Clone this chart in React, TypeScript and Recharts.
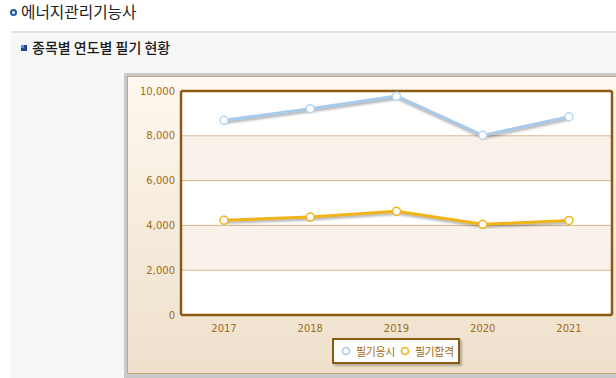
import React from 'react';
import { LineChart, Line, XAxis, YAxis, CartesianGrid, Legend } from 'recharts';

const years = ['2017', '2018', '2019', '2020', '2021'];
const applicants = [8690, 9210, 9770, 8020, 8850];
const passers = [4230, 4370, 4630, 4050, 4220];
const yTicks = [0, 2000, 4000, 6000, 8000, 10000];
const seriesNames = ['필기응시', '필기합격'];
const pageTitle = '에너지관리기능사';
const sectionTitle = '종목별 연도별 필기 현황';

const data = years.map((y, i) => ({ year: y, a: applicants[i], p: passers[i] }));

const BROWN = '#8d5a12';
const TICK = '#a26c14';
const BLUE = '#a9cbea';
const GOLD = '#f0b418';

const LegendBox = (props: any) => {
  const payload = props.payload || [];
  return (
    <div
      style={{
        display: 'inline-flex',
        alignItems: 'center',
        background: '#fff',
        border: `2px solid ${BROWN}`,
        boxShadow: '2px 2px 2px rgba(0,0,0,0.25)',
        padding: '2px 4px 2px 6px',
        height: 18,
        fontFamily: '"Noto Sans CJK KR", sans-serif',
        fontSize: 11,
        color: TICK,
        whiteSpace: 'nowrap',
      }}
    >
      {payload.map((p: any, i: number) => (
        <span key={i} style={{ display: 'inline-flex', alignItems: 'center', marginRight: i === payload.length - 1 ? 0 : 4 }}>
          <svg width={12} height={12} style={{ marginRight: 4 }}>
            <circle cx={6} cy={6} r={3.5} fill="#fff" stroke={p.color} strokeWidth={1.6} />
          </svg>
          <span style={{ letterSpacing: -0.4 }}>{p.value}</span>
        </span>
      ))}
    </div>
  );
};

export default function App() {
  return (
    <div
      style={{
        position: 'fixed',
        left: 0,
        top: 0,
        width: 616,
        height: 378,
        overflow: 'hidden',
        background: '#ffffff',
        fontFamily: '"Noto Sans CJK KR", sans-serif',
      }}
    >
      <style>{`.recharts-line-curve{filter:drop-shadow(1px 2px 1px rgba(0,0,0,0.3));}`}</style>
      <div
        style={{
          position: 'absolute',
          left: 10,
          top: 9,
          width: 7,
          height: 7,
          boxSizing: 'border-box',
          border: '2px solid #1a5aa0',
          borderRadius: '50%',
        }}
      />
      <div style={{ position: 'absolute', left: 21, top: 1, fontSize: 15.7, color: '#222', lineHeight: '22px' }}>
        {pageTitle}
      </div>
      <div
        style={{
          position: 'absolute',
          left: 11,
          top: 31,
          right: 0,
          bottom: 0,
          background: '#f7f7f7',
          borderTop: '2px solid #e2e2e2',
        }}
      />
      <div style={{ position: 'absolute', left: 21, top: 45, width: 6, height: 6, background: '#1b4b94' }} />
      <div style={{ position: 'absolute', left: 21, top: 45, width: 3, height: 3, background: '#5d8fd6' }} />
      <div
        style={{
          position: 'absolute',
          left: 32,
          top: 38,
          fontSize: 14,
          fontWeight: 500,
          color: '#1a1a1a',
          lineHeight: '18px',
        }}
      >
        {sectionTitle}
      </div>
      <div
        style={{
          position: 'absolute',
          left: 124,
          top: 73,
          width: 500,
          height: 305,
          boxSizing: 'border-box',
          borderLeft: '3px solid #c9c9c9',
          borderTop: '3px solid #c9c9c9',
          borderBottom: '4px solid #c9c9c9',
        }}
      >
        <div
          style={{
            position: 'absolute',
            left: 0,
            top: 0,
            right: 0,
            bottom: 0,
            border: '1px solid #c8a57a',
            background: 'linear-gradient(#fef8f0, #eee0cb)',
          }}
        >
          <LineChart
            width={488}
            height={296}
            data={data}
            margin={{ top: 13, right: 3, left: 0, bottom: 28 }}
          >
            <CartesianGrid
              vertical={false}
              stroke="#d4b68c"
              horizontalFill={['#ffffff', '#f9f1ea']}
              fillOpacity={1}
            />
            <XAxis
              dataKey="year"
              padding={{ left: 43, right: 43 }}
              height={30}
              tickLine={false}
              tickSize={8}
              axisLine={{ stroke: BROWN, strokeWidth: 2.5 }}
              tick={{ fill: TICK, fontSize: 10, fontFamily: '"DejaVu Sans", Verdana, sans-serif' }}
            />
            <XAxis
              xAxisId="top"
              dataKey="year"
              orientation="top"
              height={1}
              tick={false}
              tickLine={false}
              axisLine={{ stroke: BROWN, strokeWidth: 2.5 }}
            />
            <YAxis
              domain={[0, 10000]}
              ticks={yTicks}
              width={53}
              tickLine={false}
              tickSize={4}
              interval={0}
              tickFormatter={(v: number) => v.toLocaleString('en-US')}
              axisLine={{ stroke: BROWN, strokeWidth: 2.5 }}
              tick={{ fill: TICK, fontSize: 10, fontFamily: '"DejaVu Sans", Verdana, sans-serif' }}
            />
            <YAxis
              yAxisId="right"
              orientation="right"
              domain={[0, 10000]}
              width={1}
              tick={false}
              tickLine={false}
              axisLine={{ stroke: BROWN, strokeWidth: 2.5 }}
            />
            <Line
              dataKey="a"
              name={seriesNames[0]}
              stroke={BLUE}
              strokeWidth={3}
              dot={{ r: 4, fill: '#fff', stroke: '#b6d6f2', strokeWidth: 1.5 }}
              isAnimationActive={false}
            />
            <Line
              dataKey="p"
              name={seriesNames[1]}
              stroke={GOLD}
              strokeWidth={3}
              dot={{ r: 4, fill: '#fff', stroke: GOLD, strokeWidth: 1.5 }}
              isAnimationActive={false}
            />
            <Legend
              layout="horizontal"
              verticalAlign="middle"
              align="center"
              content={<LegendBox />}
              wrapperStyle={{ left: 204, top: 261, width: 'auto', height: 'auto' }}
            />
          </LineChart>
        </div>
      </div>
    </div>
  );
}
